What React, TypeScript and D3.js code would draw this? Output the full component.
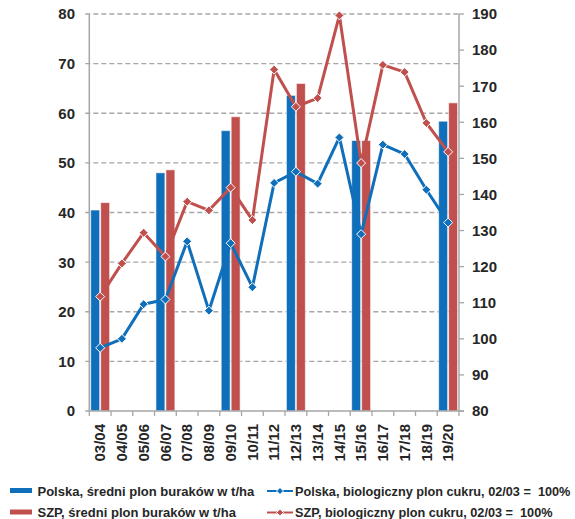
import React from "react";
import * as d3 from "d3";

const categories = ["03/04","04/05","05/06","06/07","07/08","08/09","09/10","10/11","11/12","12/13","13/14","14/15","15/16","16/17","17/18","18/19","19/20"];
const polskaYield: (number | null)[] = [40.5,null,null,48.0,null,null,56.5,null,null,63.6,null,null,54.5,null,null,null,58.4];
const szpYield: (number | null)[] = [42.0,null,null,48.6,null,null,59.3,null,null,66.0,null,null,54.5,null,null,null,62.1];
const polskaSugar = [97.5,100,109.6,110.9,127,107.8,126.5,114.3,143.2,146.3,143,155.8,129,153.8,151.2,141.3,132.2];
const szpSugar = [111.7,120.9,129.4,122.8,138.0,135.6,141.9,132.9,174.6,164.3,166.7,189.6,148.7,175.9,173.9,159.8,151.8];
const leftTicks = [0,10,20,30,40,50,60,70,80];
const rightTicks = [80,90,100,110,120,130,140,150,160,170,180,190];
const legendLabels = [
  "Polska, średni plon buraków w t/ha",
  "SZP, średni plon buraków w t/ha",
  "Polska, biologiczny plon cukru, 02/03 =\u00a0 100%",
  "SZP, biologiczny plon cukru, 02/03 =\u00a0 100%",
];

const BLUE = "#0f6fba";
const RED = "#c0504d";
const GRID = "#a6a6a6";
const TEXT = "#262626";
const FONT = "'Liberation Sans', Arial, sans-serif";

const W = 575, H = 519;
const L = 89.3, R = 459, T = 14, B = 411;

export default function App() {
  const x = d3.scaleBand<string>().domain(categories).range([L, R]).padding(0);
  const bw = x.bandwidth();
  const x1 = d3.scaleBand<string>().domain(["pl", "szp"]).range([1.4, bw - 1.4]).paddingInner(0.1);
  const yL = d3.scaleLinear().domain([0, 80]).range([B, T]);
  const yR = d3.scaleLinear().domain([80, 190]).range([B, T]);
  const cx = (i: number) => (x(categories[i]) as number) + bw / 2;

  const lineGen = d3.line<number>().x((_, i) => cx(i)).y((d) => yR(d));
  const diamond = (px: number, py: number, r = 4.5) =>
    `M${px},${py - r}L${px + r},${py}L${px},${py + r}L${px - r},${py}Z`;

  const bars: JSX.Element[] = [];
  categories.forEach((c, i) => {
    const x0 = x(c) as number;
    const pv = polskaYield[i];
    const sv = szpYield[i];
    if (pv != null)
      bars.push(<rect key={"p" + i} x={x0 + (x1("pl") as number)} y={yL(pv)} width={x1.bandwidth()} height={B - yL(pv)} fill={BLUE} stroke="#ffffff" strokeOpacity={0.6} strokeWidth={1} />);
    if (sv != null)
      bars.push(<rect key={"s" + i} x={x0 + (x1("szp") as number)} y={yL(sv)} width={x1.bandwidth()} height={B - yL(sv)} fill={RED} stroke="#ffffff" strokeOpacity={0.6} strokeWidth={1} />);
  });

  const boundaries = categories.map((c) => x(c) as number).concat([R]);

  return (
    <svg width={W} height={H} style={{ position: "absolute", left: 0, top: 0 }} fontFamily={FONT}>
      <rect width={W} height={H} fill="#ffffff" />
      {leftTicks.filter((t) => t > 0).map((t) => (
        <line key={"g" + t} x1={L - 4} x2={R} y1={yL(t)} y2={yL(t)} stroke={GRID} strokeWidth={1.3} strokeDasharray="5,3" />
      ))}
      {bars}
      <line x1={L} x2={L} y1={T} y2={B} stroke={GRID} strokeWidth={1.5} />
      <line x1={R} x2={R} y1={T} y2={B} stroke={GRID} strokeWidth={1.5} />
      <line x1={L - 4} x2={R + 5} y1={B} y2={B} stroke={GRID} strokeWidth={1.5} />
      {rightTicks.map((t) => (
        <line key={"rt" + t} x1={R} x2={R + 5} y1={yR(t)} y2={yR(t)} stroke={GRID} strokeWidth={1.3} />
      ))}
      {boundaries.map((bx, i) => (
        <line key={"bt" + i} x1={bx} x2={bx} y1={B} y2={B + 5} stroke={GRID} strokeWidth={1.3} />
      ))}
      <path d={lineGen(polskaSugar) || ""} fill="none" stroke={BLUE} strokeWidth={3} strokeLinejoin="round" />
      <path d={lineGen(szpSugar) || ""} fill="none" stroke={RED} strokeWidth={3} strokeLinejoin="round" />
      {polskaSugar.map((v, i) => (
        <path key={"pm" + i} d={diamond(cx(i), yR(v))} fill={BLUE} stroke="#ffffff" strokeWidth={1} />
      ))}
      {szpSugar.map((v, i) => (
        <path key={"sm" + i} d={diamond(cx(i), yR(v))} fill={RED} stroke="#ffffff" strokeWidth={1} />
      ))}
      {leftTicks.map((t) => (
        <text key={"lt" + t} x={75} y={yL(t)} dy="0.36em" textAnchor="end" fontSize={15} fontWeight="bold" fill={TEXT}>{t}</text>
      ))}
      {rightTicks.map((t) => (
        <text key={"rl" + t} x={472} y={yR(t)} dy="0.36em" textAnchor="start" fontSize={15} fontWeight="bold" fill={TEXT}>{t}</text>
      ))}
      {categories.map((c, i) => (
        <text key={"xl" + i} transform={`translate(${cx(i)},${424}) rotate(-90)`} dy="0.35em" textAnchor="end" fontSize={15} fontWeight="bold" fill={TEXT}>{c}</text>
      ))}
      <rect x={10} y={488} width={22} height={5} fill={BLUE} />
      <text x={37.5} y={496} fontSize={13} fontWeight="bold" fill={TEXT}>{legendLabels[0]}</text>
      <rect x={10} y={509.5} width={22} height={5} fill={RED} />
      <text x={37.5} y={517} fontSize={13} fontWeight="bold" fill={TEXT}>{legendLabels[1]}</text>
      <line x1={267} x2={293} y1={491} y2={491} stroke={BLUE} strokeWidth={2} />
      <path d={diamond(280, 491, 3.5)} fill={BLUE} stroke="#ffffff" strokeWidth={1} />
      <text x={295} y={496} fontSize={12.7} fontWeight="bold" fill={TEXT}>{legendLabels[2]}</text>
      <line x1={267} x2={293} y1={512.5} y2={512.5} stroke={RED} strokeWidth={2} />
      <path d={diamond(280, 512.5, 3.5)} fill={RED} stroke="#ffffff" strokeWidth={1} />
      <text x={295} y={517} fontSize={12.7} fontWeight="bold" fill={TEXT}>{legendLabels[3]}</text>
    </svg>
  );
}
